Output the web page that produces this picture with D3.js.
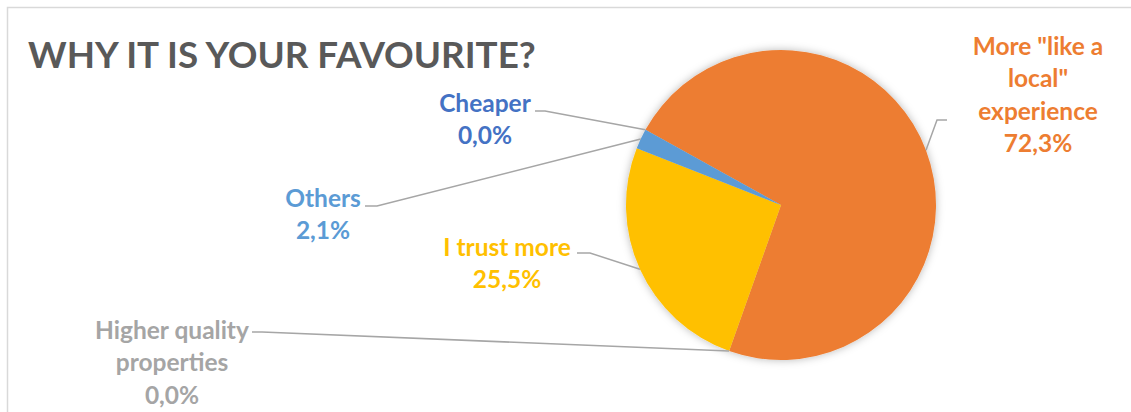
<!DOCTYPE html>
<html>
<head>
<meta charset="utf-8">
<script src="https://cdn.jsdelivr.net/npm/d3@7"></script>
<style>
  html, body { margin: 0; padding: 0; background: #fff; }
  svg { display: block; }
  text { font-family: Lato, "Open Sans", sans-serif; font-weight: 700; }
</style>
</head>
<body>
<svg id="chart" width="1131" height="412"></svg>
<script>
// Reasons respondents gave, in slice order (clockwise from the first slice)
const categories = ["Cheaper", "More \"like a local\" experience", "Higher quality properties", "I trust more", "Others"];
const shares = [0.0, 72.3, 0.0, 25.5, 2.1];
const colors = ["#4472C4", "#ED7D31", "#A5A5A5", "#FFC000", "#5B9BD5"];
// How each category name is wrapped in its data label
const labelLines = [["Cheaper"], ["More \"like a", "local\"", "experience"], ["Higher quality", "properties"], ["I trust more"], ["Others"]];
const title = "WHY IT IS YOUR FAVOURITE?";

// Label placement: centre x, centre y of first line, leader-line start and elbow
const labelLayout = [
  { x: 485,  y: 103, from: [535, 111], elbow: [545, 111] },
  { x: 1038, y: 46,  from: [947, 120], elbow: [937, 120] },
  { x: 172,  y: 330, from: [252, 332], elbow: [262, 332] },
  { x: 507,  y: 247, from: [577, 253], elbow: [590, 253] },
  { x: 323,  y: 198, from: [365, 206], elbow: [377, 206] }
];

const W = 1131, H = 412;
const cx = 781, cy = 205, R = 155;
const firstSliceDeg = 299;
const lineGap = 32.5;

const svg = d3.select("#chart");

// Drop shadow for the pie
const defs = svg.append("defs");
const f = defs.append("filter").attr("id", "pieShadow")
  .attr("x", "-20%").attr("y", "-20%").attr("width", "140%").attr("height", "140%");
f.append("feDropShadow").attr("dx", 0).attr("dy", 0).attr("stdDeviation", 4)
  .attr("flood-color", "#000").attr("flood-opacity", 0.28);

// Chart area border
svg.append("rect")
  .attr("x", 7.5).attr("y", 7.5).attr("width", W + 20).attr("height", H + 20)
  .attr("fill", "#fff").attr("stroke", "#D9D9D9").attr("stroke-width", 1.5);

// Title
svg.append("text")
  .attr("x", 28).attr("y", 68)
  .attr("fill", "#595959")
  .style("font-size", "35px")
  .text(title)
  .each(function () {
    const w = this.getComputedTextLength();
    const target = 508;
    d3.select(this).style("font-size", (35 * target / w) + "px");
  });

const data = categories.map((c, i) => ({ name: c, value: shares[i], color: colors[i], lines: labelLines[i], layout: labelLayout[i] }));

const start = firstSliceDeg * Math.PI / 180;
const pie = d3.pie().sort(null).value(d => d.value)
  .startAngle(start).endAngle(start + 2 * Math.PI);
const arcs = pie(data);
const arc = d3.arc().innerRadius(0).outerRadius(R);

const g = svg.append("g").attr("transform", `translate(${cx},${cy})`);
g.append("g").attr("filter", "url(#pieShadow)")
  .selectAll("path").data(arcs.filter(a => a.data.value > 0)).join("path")
  .attr("d", arc)
  .attr("fill", a => a.data.color);

// Percent formatting with decimal comma
const locale = d3.formatLocale({ decimal: ",", thousands: ".", grouping: [3], currency: ["", "€"] });
const fmt = v => locale.format(".1f")(v) + "%";

// Leader lines: label -> elbow -> slice midpoint on the rim
const rimPoint = a => {
  const m = (a.startAngle + a.endAngle) / 2;
  return [cx + R * Math.sin(m), cy - R * Math.cos(m)];
};
svg.append("g").selectAll("path").data(arcs).join("path")
  .attr("fill", "none").attr("stroke", "#A6A6A6").attr("stroke-width", 1.5)
  .attr("d", a => d3.line()([a.data.layout.from, a.data.layout.elbow, rimPoint(a)]));

// Data labels: category name lines followed by the percentage
const labels = svg.append("g").selectAll("text").data(arcs).join("text")
  .attr("text-anchor", "middle")
  .attr("fill", a => a.data.color)
  .style("font-size", "24.5px");
labels.each(function (a) {
  const t = d3.select(this);
  const lines = a.data.lines.concat([fmt(a.data.value)]);
  lines.forEach((ln, i) => {
    t.append("tspan")
      .attr("x", a.data.layout.x)
      .attr("y", a.data.layout.y + i * lineGap)
      .attr("dy", "0.35em")
      .text(ln);
  });
});
</script>
</body>
</html>
